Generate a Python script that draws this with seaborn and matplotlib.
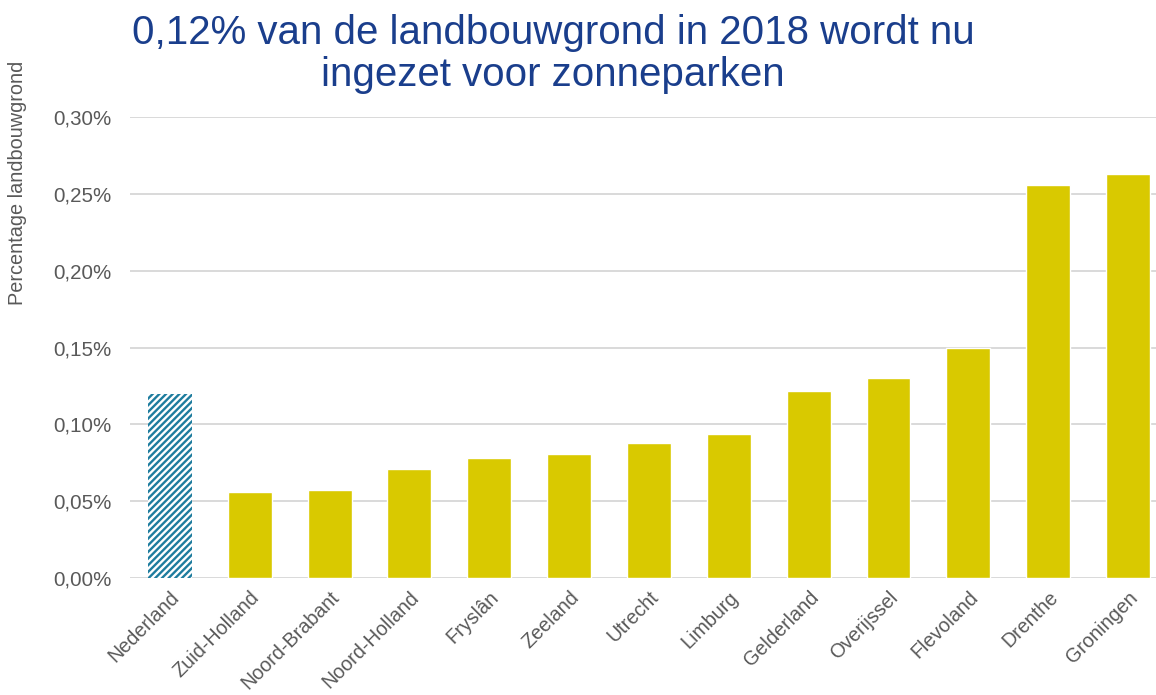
import matplotlib
matplotlib.use("Agg")
import matplotlib.pyplot as plt
import seaborn as sns
import pandas as pd
from matplotlib.ticker import FuncFormatter

# Share of agricultural land used for solar parks (%), per province
regions = ["Nederland", "Zuid-Holland", "Noord-Brabant", "Noord-Holland", "Fryslân",
           "Zeeland", "Utrecht", "Limburg", "Gelderland", "Overijssel",
           "Flevoland", "Drenthe", "Groningen"]
share_pct = [0.120, 0.056, 0.057, 0.071, 0.078, 0.081, 0.088, 0.094,
             0.122, 0.130, 0.150, 0.256, 0.263]
y_ticks = [0.00, 0.05, 0.10, 0.15, 0.20, 0.25, 0.30]

sns.set_theme(style="white")
plt.rcParams["font.family"] = ["Liberation Sans", "DejaVu Sans"]
plt.rcParams["hatch.linewidth"] = 1.7

yellow = "#D9C900"
teal = "#1E7C9E"
title_blue = "#1A3E8C"
text_grey = "#595959"

df = pd.DataFrame({"regio": regions, "aandeel": share_pct})

fig = plt.figure(figsize=(11.56, 6.95), dpi=100)
ax = fig.add_axes([130 / 1156, 117 / 695, 1026 / 1156, 461 / 695])

palette = [yellow] * len(regions)
sns.barplot(data=df, x="regio", y="aandeel", hue="regio", palette=palette,
            legend=False, width=0.55, saturation=1, ax=ax, zorder=3)

# national average drawn as a hatched bar
nl = ax.patches[0]
nl.set_facecolor("white")
nl.set_edgecolor(teal)
nl.set_hatch("/////")
nl.set_linewidth(0)

ax.set_ylim(0, 0.30)
ax.set_xlim(-0.5, 12.35)
ax.set_yticks(y_ticks)
ax.yaxis.set_major_formatter(FuncFormatter(lambda v, p: f"{v:.2f}%".replace(".", ",")))
ax.grid(axis="y", color="#D9D9D9", linewidth=1.4, zorder=0)
for s in ax.spines.values():
    s.set_visible(False)
ax.tick_params(axis="y", length=0, colors=text_grey, labelsize=14.8, pad=13)
ax.tick_params(axis="x", length=0, colors=text_grey, labelsize=14.2, pad=7)
ax.set_xlabel("")
ax.set_ylabel("")
for lbl in ax.get_xticklabels():
    lbl.set_rotation(45)
    lbl.set_ha("right")
    lbl.set_rotation_mode("anchor")
    lbl.set_color(text_grey)

fig.text(18 / 1156, 1 - 183 / 695, "Percentage landbouwgrond", rotation=90,
         ha="center", va="center", fontsize=14.3, color=text_grey)

fig.text(553 / 1156, 1 - 33 / 695, "0,12% van de landbouwgrond in 2018 wordt nu",
         ha="center", va="center", fontsize=29, color=title_blue)
fig.text(553 / 1156, 1 - 75 / 695, "ingezet voor zonneparken",
         ha="center", va="center", fontsize=29, color=title_blue)

fig.savefig("out.png", dpi=100)
